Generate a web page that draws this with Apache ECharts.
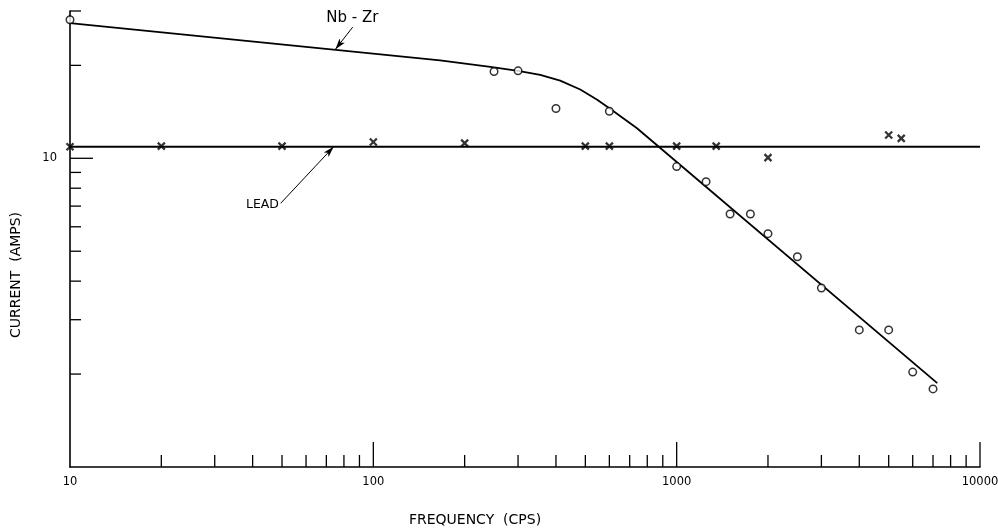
<!DOCTYPE html>
<html>
<head>
<meta charset="utf-8">
<script src="https://cdn.jsdelivr.net/npm/echarts@6/dist/echarts.min.js"></script>
<style>
html,body{margin:0;padding:0;background:#fff;}
#chart{width:998px;height:531px;}
</style>
</head>
<body>
<div id="chart"></div>
<script>
// ---- data ----
const nbzrFreq = [10, 250, 300, 400, 600, 1000, 1250, 1500, 1750, 2000, 2500, 3000, 4000, 5000, 6000, 7000];
const nbzrCurrent = [28.1, 19.1, 19.2, 14.5, 14.2, 9.4, 8.4, 6.6, 6.6, 5.7, 4.8, 3.8, 2.78, 2.78, 2.03, 1.79];
const leadFreq = [10, 20, 50, 100, 200, 500, 600, 1000, 1350, 2000, 5000, 5500];
const leadCurrent = [10.9, 10.95, 10.95, 11.3, 11.2, 10.95, 10.95, 10.95, 10.95, 10.05, 11.9, 11.6];
const nbzrCurveFreq = [10, 166, 243, 300, 355, 413, 481, 547, 608, 740, 7230];
const nbzrCurveCurrent = [27.4, 20.77, 19.76, 19.18, 18.62, 17.84, 16.71, 15.47, 14.39, 12.51, 1.87];
const leadCurveFreq = [10, 10000];
const leadCurveCurrent = [10.9, 10.9];
const xMinorTicks = [20, 30, 40, 50, 60, 70, 80, 90, 200, 300, 400, 500, 600, 700, 800, 900, 2000, 3000, 4000, 5000, 6000, 7000, 8000, 9000];
const xMajorTicks = [100, 1000, 10000];
const yMinorTicks = [2, 3, 4, 5, 6, 7, 8, 9, 20, 30];
const yMajorTicks = [10];
const xTickLabels = ['10', '100', '1000', '10000'];
const yTickLabels = ['10'];
const xMin = 10, xMax = 10000, yMin = 1, yMax = 30;
const nbzrLabel = 'Nb - Zr';
const nbzrLabelAt = [85.3, 28.5];
const nbzrArrow = [[85.5, 26.6], [75, 22.55]];
const leadLabel = 'LEAD';
const leadLabelAt = [43.1, 7.05];
const leadArrow = [[49.5, 7.15], [74, 10.9]];
const xTitle = 'FREQUENCY  (CPS)';
const yTitle = 'CURRENT  (AMPS)';

const FONT = '"DejaVu Sans", sans-serif';
const NUMFONT = '"DejaVu Sans", sans-serif';
const zip = (a, b) => a.map((v, i) => [v, b[i]]);

function xTickSeries(vals, len) {
  return {
    type: 'custom', silent: true, clip: false, z: 1,
    data: vals.map(v => [v, yMin]),
    renderItem: function (params, api) {
      const p = api.coord([api.value(0), yMin]);
      return { type: 'line', shape: { x1: p[0], y1: p[1], x2: p[0], y2: p[1] - len },
               style: { stroke: '#000', lineWidth: 1.3 } };
    }
  };
}
function yTickSeries(vals, len) {
  return {
    type: 'custom', silent: true, clip: false, z: 1,
    data: vals.map(v => [xMin, v]),
    renderItem: function (params, api) {
      const p = api.coord([xMin, api.value(1)]);
      return { type: 'line', shape: { x1: p[0], y1: p[1], x2: p[0] + len, y2: p[1] },
               style: { stroke: '#000', lineWidth: 1.3 } };
    }
  };
}

const chart = echarts.init(document.getElementById('chart'), null, { renderer: 'canvas' });
chart.setOption({
  backgroundColor: '#fff',
  animation: false,
  grid: { left: 70, right: 18, top: 11, bottom: 64, containLabel: false, outerBoundsMode: 'none' },
  xAxis: {
    type: 'log', logBase: 10, min: xMin, max: xMax,
    axisLine: { show: true, lineStyle: { color: '#000', width: 1.6 } },
    axisTick: { show: false }, splitLine: { show: false }, minorTick: { show: false },
    axisLabel: {
      color: '#000', fontFamily: NUMFONT, fontSize: 11.5, margin: 9,
      formatter: v => { const s = String(Math.round(v)); return xTickLabels.indexOf(s) >= 0 ? s : ''; }
    }
  },
  yAxis: {
    type: 'log', logBase: 10, min: yMin, max: yMax,
    axisLine: { show: true, lineStyle: { color: '#000', width: 1.6 } },
    axisTick: { show: false }, splitLine: { show: false }, minorTick: { show: false },
    axisLabel: {
      color: '#000', fontFamily: NUMFONT, fontSize: 11.5, margin: 13,
      formatter: v => { const s = String(Math.round(v)); return yTickLabels.indexOf(s) >= 0 ? s : ''; }
    }
  },
  graphic: [
    { type: 'text', x: 475, y: 520,
      style: { text: xTitle, font: '14px ' + FONT, fill: '#000', align: 'center', verticalAlign: 'middle' } },
    { type: 'text', x: 16, y: 275, rotation: Math.PI / 2,
      style: { text: yTitle, font: '14px ' + FONT, fill: '#000', align: 'center', verticalAlign: 'middle' } }
  ],
  series: [
    xTickSeries(xMinorTicks, 12),
    xTickSeries(xMajorTicks, 25),
    yTickSeries(yMinorTicks, 11),
    yTickSeries(yMajorTicks, 23),
    {
      type: 'line', data: zip(leadCurveFreq, leadCurveCurrent), showSymbol: false, symbol: 'none',
      lineStyle: { color: '#000', width: 1.8 }, clip: false, silent: true, z: 2,
      markLine: {
        silent: true, symbol: ['none', 'arrow'], symbolSize: [5, 11],
        lineStyle: { color: '#000', width: 1, type: 'solid' }, label: { show: false },
        data: [[{ coord: leadArrow[0] }, { coord: leadArrow[1] }]]
      },
      markPoint: {
        silent: true, symbol: 'circle', symbolSize: 0,
        label: { show: true, position: 'inside', color: '#000', fontFamily: FONT, fontSize: 12.5 },
        data: [{ coord: leadLabelAt, value: leadLabel, label: { formatter: leadLabel } }]
      }
    },
    {
      type: 'line', data: zip(nbzrCurveFreq, nbzrCurveCurrent), showSymbol: false, symbol: 'none',
      smooth: false, lineStyle: { color: '#000', width: 1.8, join: 'round' }, clip: false, silent: true, z: 2,
      markLine: {
        silent: true, symbol: ['none', 'arrow'], symbolSize: [5, 11],
        lineStyle: { color: '#000', width: 1, type: 'solid' }, label: { show: false },
        data: [[{ coord: nbzrArrow[0] }, { coord: nbzrArrow[1] }]]
      },
      markPoint: {
        silent: true, symbol: 'circle', symbolSize: 0,
        label: { show: true, position: 'inside', color: '#000', fontFamily: FONT, fontSize: 15 },
        data: [{ coord: nbzrLabelAt, value: nbzrLabel, label: { formatter: nbzrLabel } }]
      }
    },
    {
      type: 'scatter', data: zip(nbzrFreq, nbzrCurrent), symbol: 'circle', symbolSize: 7.5,
      itemStyle: { color: '#fff', borderColor: '#000', borderWidth: 1.5 }, clip: false, z: 4
    },
    {
      type: 'scatter', data: zip(leadFreq, leadCurrent),
      symbol: 'path://M0,0L10,10M10,0L0,10', symbolSize: 7,
      itemStyle: { color: 'none', borderColor: '#000', borderWidth: 2.2 }, clip: false, z: 4
    }
  ]
});
</script>
</body>
</html>
